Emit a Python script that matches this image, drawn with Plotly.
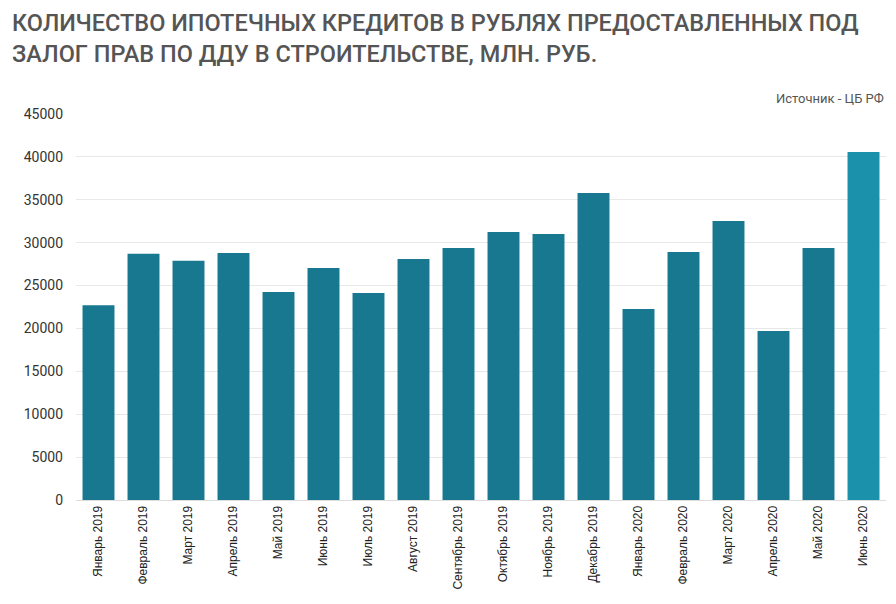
import plotly.graph_objects as go

months = ["Январь 2019", "Февраль 2019", "Март 2019", "Апрель 2019", "Май 2019",
          "Июнь 2019", "Июль 2019", "Август 2019", "Сентябрь 2019", "Октябрь 2019",
          "Ноябрь 2019", "Декабрь 2019", "Январь 2020", "Февраль 2020", "Март 2020",
          "Апрель 2020", "Май 2020", "Июнь 2020"]
values = [22700, 28700, 27900, 28800, 24250, 27050, 24130, 28100, 29380, 31240,
          31000, 35790, 22270, 28900, 32520, 19700, 29380, 40570]
y_ticks = [0, 5000, 10000, 15000, 20000, 25000, 30000, 35000, 40000, 45000]

base_color = "#17788F"
last_color = "#1B91AB"
colors = [base_color] * (len(values) - 1) + [last_color]

fig = go.Figure(go.Bar(
    x=months, y=values,
    marker=dict(color=colors, line=dict(width=0)),
    width=0.71,
    hoverinfo="x+y",
))

title_text = ("КОЛИЧЕСТВО ИПОТЕЧНЫХ КРЕДИТОВ В РУБЛЯХ ПРЕДОСТАВЛЕННЫХ ПОД<br>"
              "ЗАЛОГ ПРАВ ПО ДДУ В СТРОИТЕЛЬСТВЕ, МЛН. РУБ.")

fig.update_layout(
    width=896, height=604,
    margin=dict(l=76, r=10, t=114, b=104),
    paper_bgcolor="white", plot_bgcolor="white",
    showlegend=False,
    xaxis=dict(
        tickangle=-90,
        tickfont=dict(family="Liberation Sans, Arial", size=12, color="#222222"),
        showgrid=False,
        showline=True, linecolor="#dddddd", linewidth=1,
        ticks="",
    ),
    yaxis=dict(
        range=[0, 45000],
        tickvals=y_ticks,
        tickformat="d",
        tickfont=dict(family="Roboto", size=14, color="#333333"),
        showgrid=True, gridcolor="#e8e8e8", gridwidth=1,
        zeroline=False,
        ticks="", ticklabelstandoff=12,
    ),
    annotations=[
        dict(text=title_text, xref="paper", yref="paper",
             x=-0.0815, y=1.277, xanchor="left", yanchor="top", align="left",
             showarrow=False,
             font=dict(family="Roboto", size=23.5, weight=500, color="#555555")),
        dict(text="Источник - ЦБ РФ", xref="paper", yref="paper",
             x=1.0, y=1.015, xanchor="right", yanchor="bottom", showarrow=False,
             font=dict(family="Roboto", size=13, color="#555555")),
    ],
)

fig.write_html("out.html", config={"displayModeBar": False},
               post_script="document.body.style.margin='0px';")
